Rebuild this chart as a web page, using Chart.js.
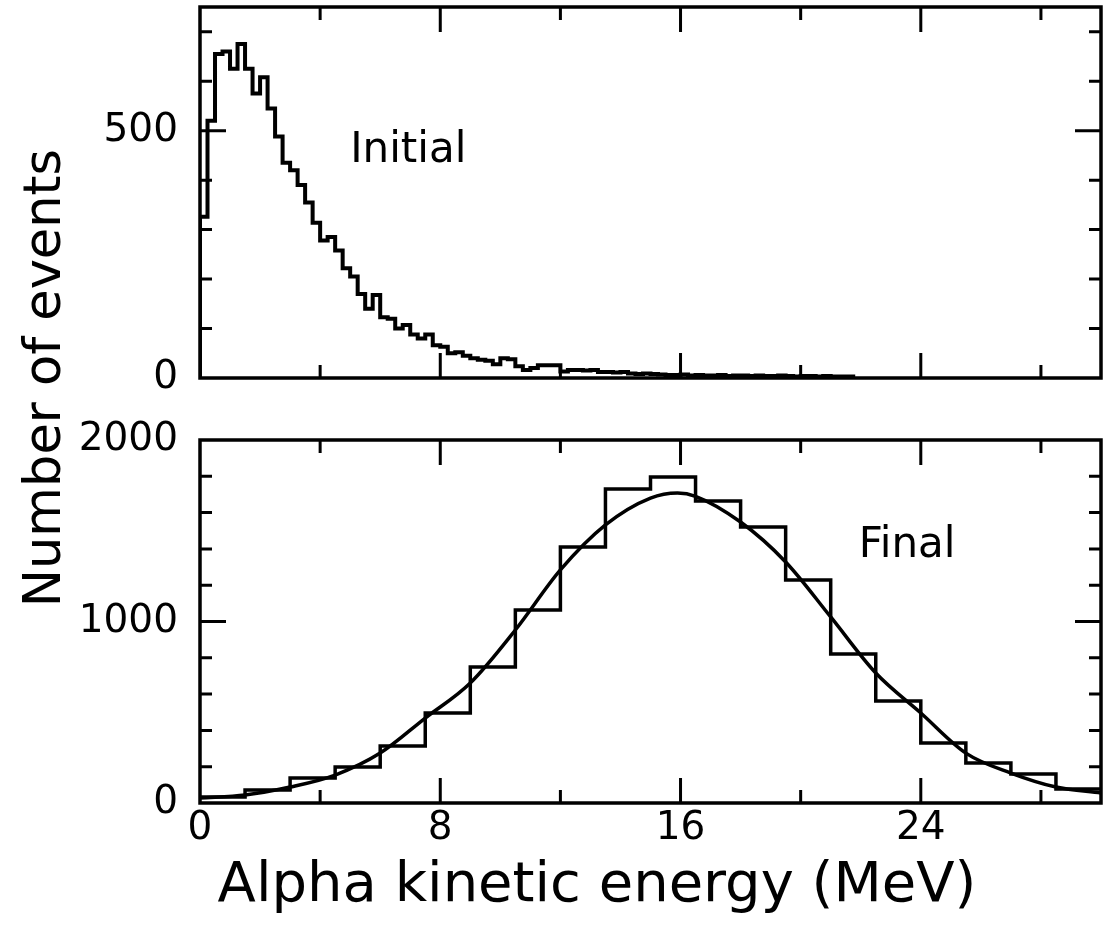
<!DOCTYPE html>
<html>
<head>
<meta charset="utf-8">
<script src="https://cdn.jsdelivr.net/npm/chart.js@4.4.0/dist/chart.umd.min.js"></script>
<style>
  html, body { margin: 0; padding: 0; background: #fff; }
  #wrap { position: relative; width: 1104px; height: 930px; }
  .layer { position: absolute; left: 0; top: 0; width: 1104px; height: 930px; }
</style>
</head>
<body>
<div id="wrap">
  <div class="layer"><canvas id="initialChart"></canvas></div>
  <div class="layer"><canvas id="finalChart"></canvas></div>
</div>
<script>
// Initial spectrum (top), 0.25 MeV bins from 0
const initialBinWidth = 0.25;
const initialCounts = [
  326, 520, 655, 660, 625, 675, 625, 575, 608, 545,
  488, 435, 420, 390, 355, 314, 278, 285, 258, 222,
  205, 170, 140, 168, 123, 120, 100, 107, 88, 80,
  88, 66, 63, 50, 52, 45, 40, 37, 35, 28,
  40, 38, 24, 16, 20, 26, 26, 26, 13, 16,
  16, 15, 16, 12, 12, 11, 12, 9, 8, 9,
  8, 7, 6, 6, 7, 5, 6, 5, 5, 6,
  4, 5, 5, 4, 5, 4, 4, 5, 4, 3,
  4, 4, 3, 4, 3, 3, 3
];

// Final spectrum (bottom), 1.5 MeV bins from 0
const finalBinWidth = 1.5;
const finalCounts = [33, 72, 138, 198, 314, 496, 749, 1063, 1410, 1730,
                     1796, 1664, 1521, 1229, 821, 562, 331, 220, 160, 77];

// fitted curve
const fitEnergy = [0, 1.5, 3, 4.5, 6, 7.5, 9, 10.5, 12, 13.5, 15, 15.9,
                   16.5, 18, 19.5, 21, 22.5, 24, 25.5, 27, 28.5, 30];
const fitCounts = [28, 44, 88, 154, 275, 468, 661, 953, 1284, 1532, 1680, 1708,
                   1690, 1548, 1328, 1025, 716, 496, 275, 165, 88, 55];

// axis ticks
const xTickLabels = [0, 8, 16, 24];
const xMajorTicks = [8, 16, 24];
const xMinorTicks = [4, 12, 20, 28];
const initialYLabels = [0, 500];
const initialYMajor = [500];
const initialYMinor = [100, 200, 300, 400, 600, 700];
const finalYLabels = [0, 1000, 2000];
const finalYMajor = [1000];
const finalYMinor = [200, 400, 600, 800, 1200, 1400, 1600, 1800];

const FONT = 'DejaVu Sans';

// bin left edges + closing right edge, drawn with stepped: 'before'
function stepPoints(counts, width, fromZero, toZero) {
  const n = counts.length;
  const pts = counts.map((c, i) => ({ x: i * width, y: c }));
  pts.push({ x: n * width, y: counts[n - 1] });
  if (fromZero) pts.unshift({ x: 0, y: 0 });
  if (toZero) pts.push({ x: n * width, y: 0 });
  return pts;
}

// frame box, inward ticks on all four sides, panel labels and titles
const framePlugin = {
  id: 'frame',
  afterDatasetsDraw(chart, args, opts) {
    const { ctx, chartArea: a, scales: { x, y } } = chart;
    ctx.save();
    ctx.strokeStyle = '#000';
    ctx.lineWidth = 3.5;
    ctx.strokeRect(a.left, a.top, a.right - a.left, a.bottom - a.top);

    ctx.lineWidth = 3;
    ctx.beginPath();
    const xt = (vals, len) => vals.forEach(v => {
      const px = x.getPixelForValue(v);
      ctx.moveTo(px, a.bottom); ctx.lineTo(px, a.bottom - len);
      ctx.moveTo(px, a.top); ctx.lineTo(px, a.top + len);
    });
    const yt = (vals, len) => vals.forEach(v => {
      const py = y.getPixelForValue(v);
      ctx.moveTo(a.left, py); ctx.lineTo(a.left + len, py);
      ctx.moveTo(a.right, py); ctx.lineTo(a.right - len, py);
    });
    xt(xMajorTicks, 25);
    xt(xMinorTicks, 13);
    yt(opts.yMajor, 26);
    yt(opts.yMinor, 12);
    ctx.stroke();

    ctx.fillStyle = '#000';
    (opts.labels || []).forEach(l => {
      ctx.font = '42px "' + FONT + '"';
      ctx.textAlign = 'left';
      ctx.textBaseline = 'alphabetic';
      ctx.fillText(l.text, x.getPixelForValue(l.x), y.getPixelForValue(l.y));
    });

    if (opts.xTitle) {
      ctx.font = '56px "' + FONT + '"';
      ctx.textAlign = 'center';
      ctx.textBaseline = 'middle';
      ctx.fillText(opts.xTitle.text, opts.xTitle.cx, opts.xTitle.cy);
    }

    if (opts.yTitle) {
      ctx.translate(opts.yTitle.cx, opts.yTitle.cy);
      ctx.rotate(-Math.PI / 2);
      ctx.font = '51px "' + FONT + '"';
      ctx.textAlign = 'center';
      ctx.textBaseline = 'middle';
      ctx.fillText(opts.yTitle.text, 0, 0);
    }
    ctx.restore();
  }
};

const tickFont = { family: FONT, size: 39 };
const plain = v => String(v);

new Chart(document.getElementById('initialChart'), {
  type: 'line',
  data: {
    datasets: [{
      data: stepPoints(initialCounts, initialBinWidth, true, true),
      stepped: 'before',
      borderColor: '#000',
      borderWidth: 4,
      pointRadius: 0,
      fill: false
    }]
  },
  options: {
    responsive: true,
    maintainAspectRatio: false,
    animation: false,
    layout: { padding: { top: 7, right: 3, bottom: 552, left: 0 } },
    plugins: {
      legend: { display: false },
      tooltip: { enabled: false },
      frame: {
        yMajor: initialYMajor,
        yMinor: initialYMinor,
        labels: [{ text: 'Initial', x: 5, y: 437 }]
      }
    },
    scales: {
      x: { type: 'linear', min: 0, max: 30, display: false },
      y: {
        type: 'linear', min: 0, max: 750,
        grid: { display: false },
        border: { display: false },
        afterBuildTicks: s => { s.ticks = initialYLabels.map(v => ({ value: v })); },
        afterFit: s => { s.width = 200; s.paddingTop = 0; s.paddingBottom = 0; },
        ticks: { padding: 14, color: '#000', font: tickFont, callback: plain }
      }
    }
  },
  plugins: [framePlugin]
});

new Chart(document.getElementById('finalChart'), {
  type: 'line',
  data: {
    datasets: [{
      data: stepPoints(finalCounts, finalBinWidth, false, false),
      stepped: 'before',
      borderColor: '#000',
      borderWidth: 3.5,
      pointRadius: 0,
      fill: false
    }, {
      data: fitEnergy.map((e, i) => ({ x: e, y: fitCounts[i] })),
      borderColor: '#000',
      borderWidth: 3.5,
      pointRadius: 0,
      cubicInterpolationMode: 'monotone',
      fill: false
    }]
  },
  options: {
    responsive: true,
    maintainAspectRatio: false,
    animation: false,
    layout: { padding: { top: 440, right: 3, bottom: 0, left: 0 } },
    plugins: {
      legend: { display: false },
      tooltip: { enabled: false },
      frame: {
        yMajor: finalYMajor,
        yMinor: finalYMinor,
        labels: [{ text: 'Final', x: 21.93, y: 1355 }],
        xTitle: { text: 'Alpha kinetic energy (MeV)', cx: 597, cy: 886 },
        yTitle: { text: 'Number of events', cx: 47, cy: 378 }
      }
    },
    scales: {
      x: {
        type: 'linear', min: 0, max: 30,
        grid: { display: false },
        border: { display: false },
        afterBuildTicks: s => { s.ticks = xTickLabels.map(v => ({ value: v })); },
        afterFit: s => { s.height = 127; s.paddingLeft = 0; s.paddingRight = 0; },
        ticks: { padding: -6, color: '#000', font: tickFont, autoSkip: false, maxRotation: 0, callback: plain }
      },
      y: {
        type: 'linear', min: 0, max: 2000,
        grid: { display: false },
        border: { display: false },
        afterBuildTicks: s => { s.ticks = finalYLabels.map(v => ({ value: v })); },
        afterFit: s => { s.width = 200; s.paddingTop = 0; s.paddingBottom = 0; },
        ticks: { padding: 14, color: '#000', font: tickFont, callback: plain }
      }
    }
  },
  plugins: [framePlugin]
});
</script>
</body>
</html>
